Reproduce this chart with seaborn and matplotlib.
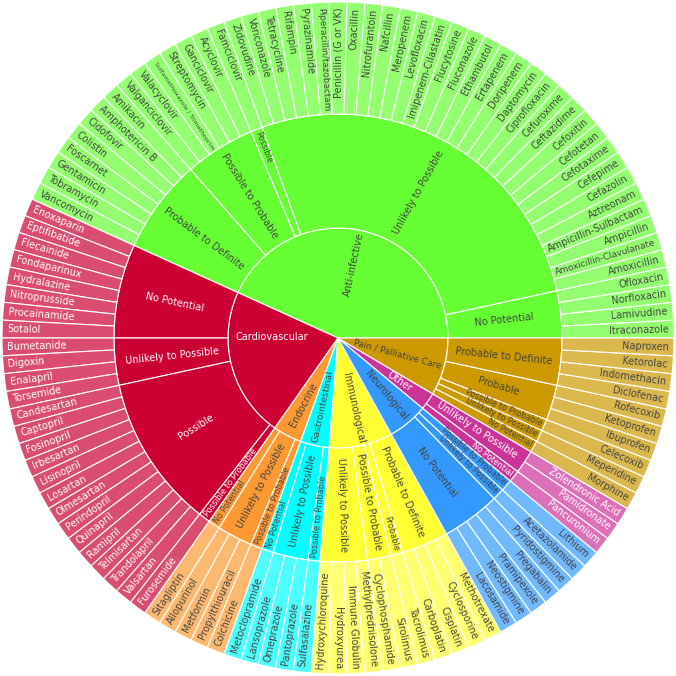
import numpy as np
import pandas as pd
import matplotlib
matplotlib.use("Agg")
import matplotlib.pyplot as plt
import seaborn as sns
from matplotlib.textpath import TextToPath
from matplotlib.font_manager import FontProperties


categories = ["Anti-infective", "Cardiovascular", "Endocrine", "Gastrointestinal",
              "Immunological", "Neurological", "Other", "Pain / Palliative Care"]
category_colors = ["#66ff33", "#cc0033", "#ff9933", "#00ffff",
                   "#ffff33", "#3399ff", "#cc3399", "#cc9900"]
light_text = ["Cardiovascular", "Other"]

# risk groups, in drawing order (counter-clockwise from 3 o'clock)
group_category = ["Anti-infective"] * 5 + ["Cardiovascular"] * 4 + ["Endocrine"] * 3 + \
    ["Gastrointestinal"] * 3 + ["Immunological"] * 4 + ["Neurological"] * 3 + \
    ["Other"] * 2 + ["Pain / Palliative Care"] * 5
group_risk = [
    "No Potential", "Unlikely to Possible", "Possible", "Possible to Probable", "Probable to Definite",
    "No Potential", "Unlikely to Possible", "Possible", "Possible to Probable",
    "No Potential", "Unlikely to Possible", "Possible to Probable",
    "No Potential", "Unlikely to Possible", "Possible to Probable",
    "Unlikely to Possible", "Possible to Probable", "Probable", "Probable to Definite",
    "No Potential", "Unlikely to Possible", "Possible to Probable",
    "No Potential", "Unlikely to Possible",
    "No Potential", "Unlikely to Possible", "Possible to Probable", "Probable", "Probable to Definite",
]
group_size = [4, 32, 1, 6, 8,
              8, 4, 13, 1,
              1, 3, 1,
              1, 3, 1,
              4, 2, 1, 4,
              5, 1, 1,
              1, 2,
              1, 1, 1, 3, 4]

anti_infective = [
    "Itraconazole", "Lamivudine", "Norfloxacin", "Ofloxacin",
    "Amoxicillin", "Amoxicillin-Clavulanate", "Ampicillin", "Ampicillin-Sulbactam", "Aztreonam",
    "Cefazolin", "Cefepime", "Cefotaxime", "Cefotetan", "Cefoxitin", "Ceftazidime", "Cefuroxime",
    "Ciprofloxacin", "Daptomycin", "Doripenem", "Ertapenem", "Ethambutol", "Fluconazole",
    "Flucytosine", "Imipenem-Cilastatin", "Levofloxacin", "Meropenem", "Nafcillin",
    "Nitrofurantoin", "Oxacillin", "Penicillin (G or VK)", "Piperacillin/tazobactam",
    "Pyrazinamide", "Rifampin", "Tetracycline", "Voriconazole", "Zidovudine",
    "Famciclovir",
    "Acyclovir", "Ganciclovir", "Streptomycin", "Sulfamethoxazole / Trimethoprim",
    "Valacyclovir", "Valganciclovir",
    "Amikacin", "Amphotericin B", "Cidofovir", "Colistin", "Foscarnet", "Gentamicin",
    "Tobramycin", "Vancomycin",
]
cardiovascular = [
    "Enoxaparin", "Eptifibatide", "Flecainide", "Fondaparinux", "Hydralazine",
    "Nitroprusside", "Procainamide", "Sotalol",
    "Bumetanide", "Digoxin", "Enalapril", "Torsemide",
    "Candesartan", "Captopril", "Fosinopril", "Irbesartan", "Lisinopril", "Losartan",
    "Olmesartan", "Perindopril", "Quinapril", "Ramipril", "Telmisartan", "Trandolapril", "Valsartan",
    "Furosemide",
]
endocrine = ["Sitagliptin", "Allopurinol", "Metformin", "Propylthiouracil", "Colchicine"]
gastrointestinal = ["Metoclopramide", "Lansoprazole", "Omeprazole", "Pantoprazole", "Sulfasalazine"]
immunological = ["Hydroxychloroquine", "Hydroxyurea", "Immune Globulin", "Methylprednisolone",
                 "Cyclophosphamide", "Sirolimus", "Tacrolimus",
                 "Carboplatin", "Cisplatin", "Cyclosporine", "Methotrexate"]
neurological = ["Lacosamide", "Neostigmine", "Pramipexole", "Pregabalin", "Pyridostigmine",
                "Acetazolamide", "Lithium"]
other = ["Pancuronium", "Pamidronate", "Zolendronic Acid"]
pain = ["Morphine", "Meperidine", "Celecoxib", "Ibuprofen", "Ketoprofen", "Rofecoxib",
        "Diclofenac", "Indomethacin", "Ketorolac", "Naproxen"]

drugs = anti_infective + cardiovascular + endocrine + gastrointestinal + \
    immunological + neurological + other + pain

df = pd.DataFrame({
    "category": np.repeat(group_category, group_size),
    "risk": np.repeat(group_risk, group_size),
    "drug": drugs,
})
df["n"] = 1
inner = df.groupby("category", sort=False)["n"].sum()
middle = df.groupby(["category", "risk"], sort=False)["n"].sum()

sns.set_style("white")
plt.rcParams["font.family"] = ["DejaVu Sans"]

cmap = dict(zip(categories, category_colors))


def lighten(c, a=0.7):
    rgb = np.array(matplotlib.colors.to_rgb(c))
    return tuple(a * rgb + (1 - a))


R1, R2, R3 = 110, 224, 336
BASE = 7.0
DARK = "#444444"
ttp = TextToPath()


def text_px(s, pt):
    w, h, d = ttp.get_text_width_height_descent(s, FontProperties(family="DejaVu Sans", size=pt), ismath=False)
    return w * 100 / 72


def fit(s, max_len, max_h):
    size = BASE * min(1.0, max_len / text_px(s, BASE))
    return min(size, max_h / 1.25 * 72 / 100)


def put(ax, theta, r, s, size, color, mode):
    rad = np.deg2rad(theta)
    right = np.cos(rad) > -0.01
    rot = theta if right else theta - 180
    rot = ((rot + 180) % 360) - 180
    if mode == "outer":
        ha = "right" if right else "left"
    else:
        ha = "center"
    ax.text(r * np.cos(rad), r * np.sin(rad), s, rotation=rot, rotation_mode="anchor",
            ha=ha, va="center", fontsize=size, color=color)


fig = plt.figure(figsize=(6.76, 6.76), dpi=100)
ax = fig.add_axes([0, 0, 1, 1])
edge = dict(edgecolor="white", linewidth=0.8)

w_in, _ = ax.pie(inner.values, radius=R1, colors=[cmap[c] for c in inner.index],
                 startangle=0, counterclock=True, wedgeprops=dict(width=R1, **edge))
mid_cats = [c for c, r in middle.index]
w_mid, _ = ax.pie(middle.values, radius=R2, colors=[cmap[c] for c in mid_cats],
                  startangle=0, counterclock=True, wedgeprops=dict(width=R2 - R1, **edge))
w_out, _ = ax.pie(df["n"].values, radius=R3, colors=[lighten(cmap[c]) for c in df["category"]],
                  startangle=0, counterclock=True, wedgeprops=dict(width=R3 - R2, **edge))

# inner ring labels
for w, cat in zip(w_in, inner.index):
    span = np.deg2rad(w.theta2 - w.theta1)
    col = "white" if cat in light_text else DARK
    if cat == "Cardiovascular":
        th = w.theta1 + 0.3 * (w.theta2 - w.theta1)
        rad = np.deg2rad(th)
        ax.text(66 * np.cos(rad), 66 * np.sin(rad), cat, ha="center", va="center",
                fontsize=BASE, color=col)
        continue
    rs = max(12, 9 / span)
    re = R1 - 3
    size = fit(cat, re - rs, 60)
    half = text_px(cat, size) / 2
    rc = max(rs + half, min(re - half, 75))
    put(ax, (w.theta1 + w.theta2) / 2, rc, cat, size, col, "center")

# middle ring labels
for w, (cat, risk), n in zip(w_mid, middle.index, middle.values):
    span = np.deg2rad(w.theta2 - w.theta1)
    col = "white" if cat in light_text else DARK
    th = (w.theta1 + w.theta2) / 2
    if n == 1:
        size = fit(risk, 98, 190 * span)
        put(ax, th, R2 - 3, risk, size, col, "outer")
    else:
        size = fit(risk, 104, 167 * span)
        put(ax, th, (R1 + R2) / 2, risk, size, col, "center")

# outer ring labels
for w, cat, drug in zip(w_out, df["category"], df["drug"]):
    span = np.deg2rad(w.theta2 - w.theta1)
    col = "white" if cat in light_text else DARK
    size = fit(drug, 104, 280 * span)
    put(ax, (w.theta1 + w.theta2) / 2, R3 - 5, drug, size, col, "outer")

ax.set_xlim(-338, 338)
ax.set_ylim(-338, 338)
ax.set_aspect("equal")
ax.axis("off")
fig.savefig("out.png", dpi=100, facecolor="white")
